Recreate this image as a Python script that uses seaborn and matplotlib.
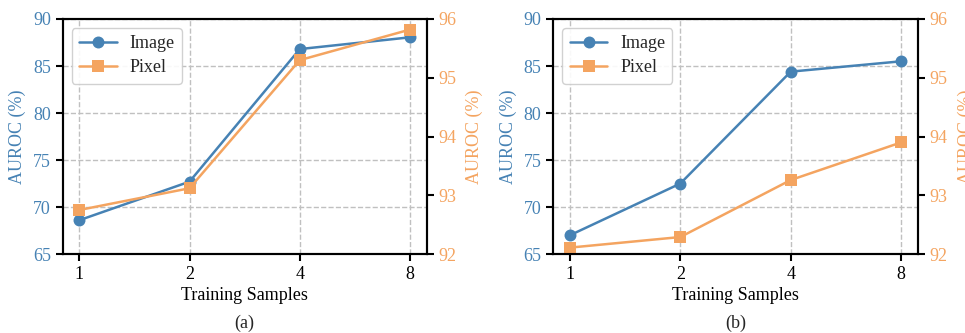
import matplotlib
matplotlib.use("Agg")
import matplotlib.pyplot as plt
import seaborn as sns
import numpy as np

samples = ["1", "2", "4", "8"]
image_a = [68.6, 72.7, 86.8, 88.05]
pixel_a = [92.75, 93.12, 95.30, 95.82]
image_b = [67.0, 72.5, 84.4, 85.5]
pixel_b = [92.11, 92.29, 93.26, 93.90]
captions = ["(a)", "(b)"]

sns.set_style("ticks")
plt.rcParams['font.family'] = ['Liberation Serif', 'DejaVu Serif']
plt.rcParams['mathtext.fontset'] = 'stix'

BLUE = "#4682B4"
ORANGE = "#F4A460"
FS = 13

fig = plt.figure(figsize=(9.65, 3.33), dpi=100)
positions = [[0.065, 0.237, 0.377, 0.706], [0.5734, 0.237, 0.3776, 0.706]]
xpos = np.arange(len(samples))

for pos, img, pix, cap in zip(positions, [image_a, image_b], [pixel_a, pixel_b], captions):
    ax = fig.add_axes(pos)
    ax2 = ax.twinx()
    sns.lineplot(x=xpos, y=img, ax=ax, color=BLUE, marker='o', markersize=8.6,
                 linewidth=1.8, markeredgewidth=0, label="Image", legend=False)
    sns.lineplot(x=xpos, y=pix, ax=ax2, color=ORANGE, marker='s', markersize=8,
                 linewidth=1.8, markeredgewidth=0, label="Pixel", legend=False)
    ax.set_xlim(-0.15, 3.15)
    ax.set_ylim(65, 90)
    ax2.set_ylim(92, 96)
    ax.set_yticks([65, 70, 75, 80, 85, 90])
    ax2.set_yticks([92, 93, 94, 95, 96])
    ax.set_xticks(xpos)
    ax.set_xticklabels(samples, fontsize=FS)
    ax.set_xlabel("Training Samples", fontsize=FS, color='black', labelpad=3)
    ax.set_ylabel("AUROC (%)", fontsize=FS, color=BLUE, labelpad=5)
    ax2.set_ylabel("AUROC (%)", fontsize=FS, color=ORANGE, labelpad=7)
    ax.tick_params(axis='y', labelsize=FS, colors='black', width=1.5, length=5)
    for t in ax.get_yticklabels():
        t.set_color(BLUE)
    ax.tick_params(axis='x', labelsize=FS, width=1.5, length=5, colors='black')
    ax2.tick_params(axis='y', labelsize=FS, width=1.5, length=5, colors='black')
    for t in ax2.get_yticklabels():
        t.set_color(ORANGE)
    ax.grid(True, linestyle='--', color='#c0c0c0', linewidth=1.0)
    ax.set_axisbelow(True)
    for a in (ax, ax2):
        for s in a.spines.values():
            s.set_visible(True)
            s.set_linewidth(1.5)
            s.set_color('black')
    h1, l1 = ax.get_legend_handles_labels()
    h2, l2 = ax2.get_legend_handles_labels()
    leg = ax2.legend(h1 + h2, l1 + l2, loc='upper left', fontsize=FS, frameon=True,
                     fancybox=True, edgecolor='#cccccc', framealpha=0.9,
                     handlelength=2.1, handletextpad=0.7, borderpad=0.4,
                     labelspacing=0.4, borderaxespad=0.5)
    leg.get_frame().set_linewidth(1.0)
    cx = pos[0] + pos[2] / 2
    fig.text(cx, 0.03, cap, ha='center', va='center', fontsize=FS)

fig.savefig("out.png", dpi=100)
